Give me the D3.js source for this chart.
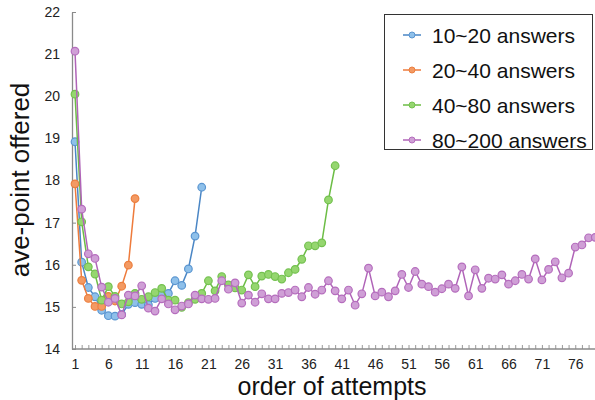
<!DOCTYPE html>
<html>
<head>
<meta charset="utf-8">
<script src="https://cdn.jsdelivr.net/npm/d3@7"></script>
<style>
  html, body { margin: 0; padding: 0; background: #fff; }
  svg { display: block; font-family: "Liberation Sans", Arial, sans-serif; }
</style>
</head>
<body>
<svg id="chart" width="595" height="400"></svg>
<script>
// Average points offered per attempt, grouped by number of answers
const seriesNames = ["10~20 answers", "20~40 answers", "40~80 answers", "80~200 answers"];

const answers10to20 = [18.92, 16.06, 15.46, 15.24, 14.92, 14.79, 14.78, 14.82, 15.06, 15.1,
  15.06, 15.05, 15.2, 15.31, 15.32, 15.62, 15.51, 15.9, 16.68, 17.84];

const answers20to40 = [17.92, 15.63, 15.2, 15.01, 15.01, 15.25, 15.14, 15.49, 15.99, 17.57];

const answers40to80 = [20.05, 17.02, 15.95, 15.78, 15.16, 15.48, 15.25, 15.07, 15.12, 15.32,
  15.18, 15.24, 15.34, 15.44, 15.16, 15.16, 14.99, 15.1, 15.18, 15.32,
  15.62, 15.38, 15.72, 15.52, 15.45, 15.4, 15.76, 15.48, 15.73, 15.77,
  15.72, 15.66, 15.81, 15.89, 16.13, 16.45, 16.45, 16.52, 17.54, 18.35];

const answers80to200 = [21.07, 17.32, 16.26, 16.15, 15.47, 15.11, 15.2, 14.81, 15.28, 15.26,
  15.5, 14.97, 14.9, 15.19, 15.07, 14.93, 15.02, 15.07, 15.28, 15.19,
  15.18, 15.2, 15.62, 15.42, 15.57, 15.09, 15.28, 15.11, 15.31, 15.19,
  15.19, 15.32, 15.34, 15.4, 15.24, 15.46, 15.3, 15.4, 15.62, 15.38,
  15.19, 15.4, 15.04, 15.31, 15.92, 15.26, 15.35, 15.24, 15.38, 15.77,
  15.46, 15.84, 15.54, 15.48, 15.35, 15.43, 15.54, 15.44, 15.95, 15.26,
  15.88, 15.44, 15.68, 15.66, 15.76, 15.54, 15.62, 15.77, 15.66, 16.14,
  15.64, 15.89, 16.07, 15.69, 15.8, 16.42, 16.47, 16.64, 16.65];

const attempts = d3.range(1, 81);            // category axis: attempt 1..80
const labelledAttempts = attempts.filter(d => d % 5 === 1);
const yTicks = [14, 15, 16, 17, 18, 19, 20, 21, 22];

const lineColors   = ["#4a86c5", "#ee7b3c", "#6cbd45", "#b064b8"];
const markerFill   = ["#8ec0ea", "#f39a63", "#95d66f", "#cf9fd6"];
const markerStroke = ["#5a95d0", "#ec7f3f", "#74c150", "#b56dbd"];

const allSeries = [answers10to20, answers20to40, answers40to80, answers80to200];

const svg = d3.select("#chart");

const axisX0 = 72;
const x = d3.scaleLinear().domain([1, 80]).range([75, 75 + 79 * 6.67]);
const y = d3.scaleLinear().domain([14, 22]).range([349, 12]);

// y axis
const yAxis = svg.append("g")
  .attr("transform", `translate(${axisX0},0)`)
  .call(d3.axisLeft(y).tickValues(yTicks).tickFormat(d3.format("d"))
    .tickSizeInner(-4).tickSizeOuter(0).tickPadding(12));
yAxis.select(".domain").attr("stroke", "#8a8a8a").attr("stroke-width", 1.3);
yAxis.selectAll(".tick line").attr("stroke", "#8a8a8a");
yAxis.selectAll("text").attr("font-size", 14).attr("fill", "#222")
  .attr("font-family", "Liberation Sans, Arial, sans-serif");

// x axis: a small tick at every attempt, a label at every fifth
const xBase = svg.append("g").attr("transform", `translate(0,${y(14)})`);
const xTicks = xBase.append("g")
  .call(d3.axisBottom(x).tickValues(attempts).tickFormat("")
    .tickSizeInner(-4).tickSizeOuter(0));
xTicks.select(".domain").remove();
xTicks.selectAll("text").remove();
xTicks.selectAll(".tick line").attr("stroke", "#9a9a9a");

const xLabels = xBase.append("g")
  .call(d3.axisBottom(x).tickValues(labelledAttempts).tickFormat(d3.format("d"))
    .tickSize(0).tickPadding(10));
xLabels.select(".domain").remove();
xLabels.selectAll("text").attr("font-size", 14).attr("fill", "#222")
  .attr("font-family", "Liberation Sans, Arial, sans-serif");

xBase.append("line")
  .attr("x1", axisX0).attr("x2", x(80) + 5)
  .attr("y1", 0).attr("y2", 0)
  .attr("stroke", "#8a8a8a").attr("stroke-width", 1.3);

// series lines and markers
allSeries.forEach((vals, s) => {
  const pts = vals.map((v, i) => ({ a: attempts[i], v }));
  const g = svg.append("g");
  g.append("path")
    .datum(pts)
    .attr("fill", "none")
    .attr("stroke", lineColors[s])
    .attr("stroke-width", 1.5)
    .attr("d", d3.line().x(d => x(d.a)).y(d => y(d.v)));
  g.selectAll("circle")
    .data(pts)
    .join("circle")
    .attr("cx", d => x(d.a))
    .attr("cy", d => y(d.v))
    .attr("r", 3.8)
    .attr("fill", markerFill[s])
    .attr("stroke", markerStroke[s])
    .attr("stroke-width", 1.2);
});

// axis titles
svg.append("text")
  .attr("x", 332).attr("y", 394.5)
  .attr("text-anchor", "middle")
  .attr("font-size", 25)
  .attr("fill", "#111")
  .text("order of attempts");

svg.append("text")
  .attr("transform", "translate(29,180) rotate(-90)")
  .attr("text-anchor", "middle")
  .attr("font-size", 26)
  .attr("fill", "#111")
  .text("ave-point offered");

// legend
const legend = svg.append("g");
legend.append("rect")
  .attr("x", 384.5).attr("y", 14.5)
  .attr("width", 208).attr("height", 135)
  .attr("fill", "#fff")
  .attr("stroke", "#333").attr("stroke-width", 1);

seriesNames.forEach((name, s) => {
  const cy = 35 + s * 35;
  legend.append("line")
    .attr("x1", 403).attr("x2", 421)
    .attr("y1", cy).attr("y2", cy)
    .attr("stroke", lineColors[s]).attr("stroke-width", 1.5);
  legend.append("circle")
    .attr("cx", 412).attr("cy", cy).attr("r", 3)
    .attr("fill", markerFill[s]).attr("stroke", markerStroke[s]).attr("stroke-width", 1);
  legend.append("text")
    .attr("x", 432).attr("y", cy + 7.5)
    .attr("font-size", 21)
    .attr("fill", "#111")
    .text(name);
});
</script>
</body>
</html>
